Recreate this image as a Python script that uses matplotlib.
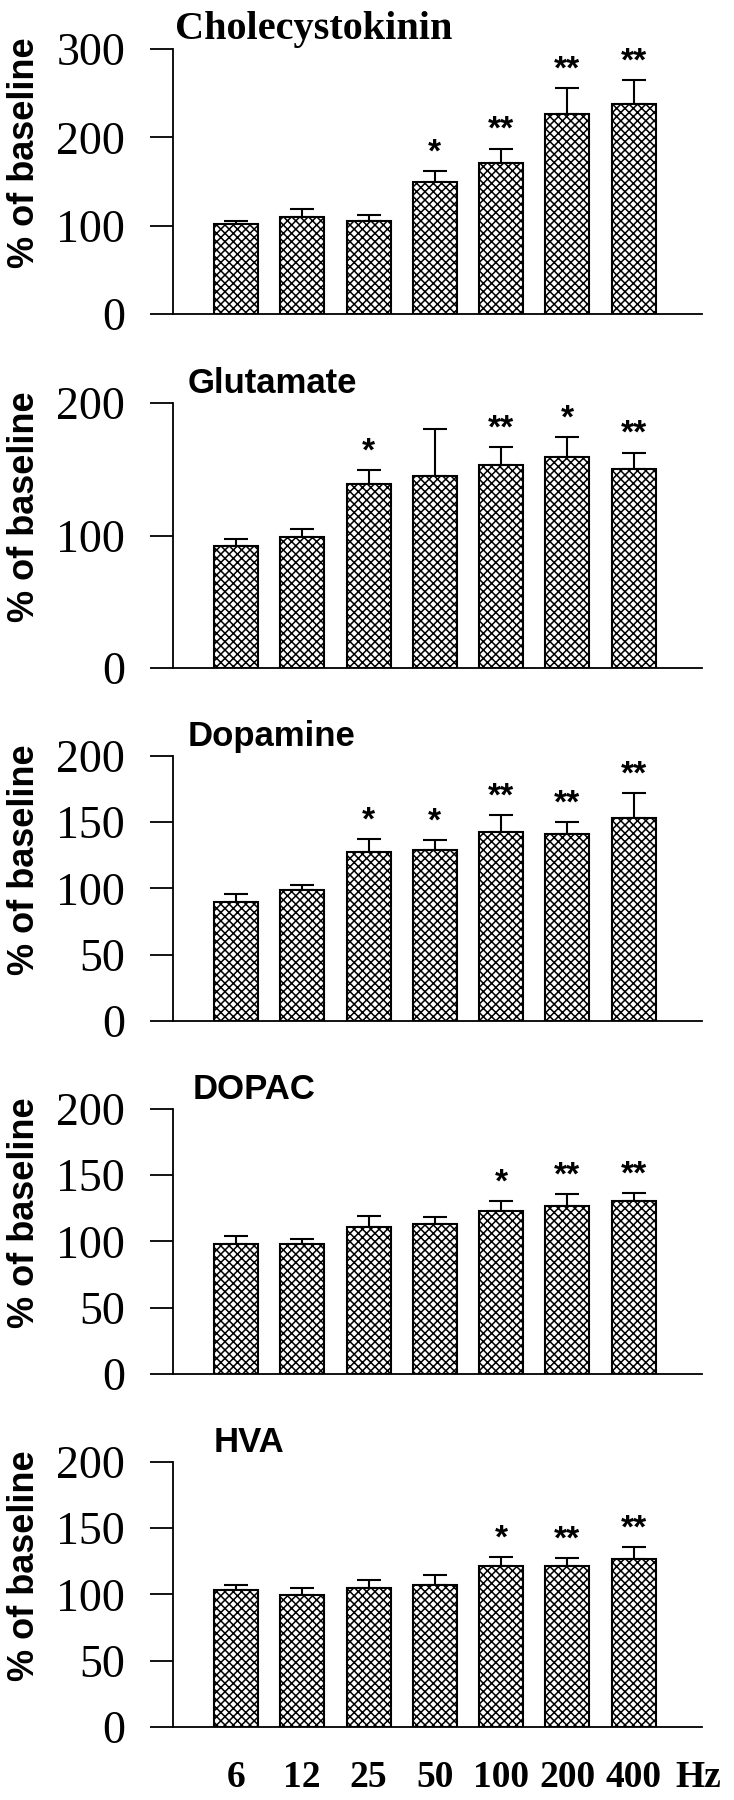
"""
Frigivelse (% af baseline) ved stimulering med forskellige frekvenser
Fem paneler: CCK, glutamat, dopamin, DOPAC og HVA
"""
import matplotlib.pyplot as plt
import numpy as np

plt.rcParams['font.family'] = 'Liberation Serif'
plt.rcParams['hatch.linewidth'] = 1.1

freq = ['6', '12', '25', '50', '100', '200', '400']

cck = [102, 110, 105, 149, 171, 226, 238]
cck_err = [3, 9, 7, 13, 16, 30, 27]
cck_sig = ['', '', '', '*', '**', '**', '**']

glu = [92, 98.5, 139, 145, 153, 159, 150]
glu_err = [5.5, 6.3, 10.5, 35.5, 13.5, 15, 12.5]
glu_sig = ['', '', '*', '', '**', '*', '**']

da = [90, 98.6, 127.5, 128.8, 142.6, 141.1, 153.5]
da_err = [6, 3.8, 9.6, 7.8, 12.9, 9.1, 18.6]
da_sig = ['', '', '*', '*', '**', '**', '**']

dopac = [98.2, 98.2, 110.8, 113.1, 123.1, 126.6, 130.2]
dopac_err = [5.8, 3.5, 8.3, 5, 7.3, 9.1, 6.3]
dopac_sig = ['', '', '', '', '*', '**', '**']

hva = [103.2, 99.9, 104.9, 107.4, 121.6, 121.1, 127.1]
hva_err = [4.3, 5.3, 5.8, 7.3, 6.8, 6.3, 8.8]
hva_sig = ['', '', '', '', '*', '**', '**']

panels = [
    ('Cholecystokinin', cck, cck_err, cck_sig, 300, [0, 100, 200, 300]),
    ('Glutamate', glu, glu_err, glu_sig, 200, [0, 100, 200]),
    ('Dopamine', da, da_err, da_sig, 200, [0, 50, 100, 150, 200]),
    ('DOPAC', dopac, dopac_err, dopac_sig, 200, [0, 50, 100, 150, 200]),
    ('HVA', hva, hva_err, hva_sig, 200, [0, 50, 100, 150, 200]),
]

# placering af akser (figurbrøk) og titler (akse-koordinater)
bottoms = [0.8256, 0.6289, 0.4328, 0.2367, 0.0406]
title_x = [0.004, 0.028, 0.028, 0.038, 0.0775]

fig = plt.figure(figsize=(7.34, 18), dpi=100)
x = np.arange(len(freq))

for k, (name, vals, err, sig, ymax, yticks) in enumerate(panels):
    ax = fig.add_axes([0.2357, bottoms[k], 0.7207, 0.1472])

    ax.errorbar(x, vals, yerr=[np.zeros(len(err)), err], fmt='none', ecolor='black',
                elinewidth=1.5, capsize=8.6, capthick=1.5, zorder=2)
    ax.bar(x, vals, width=0.664, color='white', edgecolor='black', linewidth=1.5,
           hatch='xxxx', zorder=3)

    for i in range(len(vals)):
        if sig[i]:
            ax.annotate(sig[i], xy=(x[i], vals[i] + err[i]), xytext=(0, 7),
                        textcoords='offset points', ha='center', va='baseline',
                        fontsize=24, fontweight='bold', family='Liberation Sans')

    ax.set_xlim(-0.95, 7.03)
    ax.set_ylim(0, ymax)
    ax.set_yticks(yticks)
    ax.tick_params(axis='y', direction='out', length=16.5, width=1.3, pad=18, labelsize=33)

    for s in ['top', 'right']:
        ax.spines[s].set_visible(False)
    for s in ['left', 'bottom']:
        ax.spines[s].set_linewidth(1.3)

    if k == 0:
        ax.text(title_x[k], 1.038, name, transform=ax.transAxes, ha='left', va='baseline',
                fontsize=29, fontweight='bold', family='Liberation Serif')
    else:
        ax.text(title_x[k], 1.036, name, transform=ax.transAxes, ha='left', va='baseline',
                fontsize=25, fontweight='bold', family='Liberation Sans')

    ax.text(-0.28, 0.61, '% of baseline', transform=ax.transAxes, rotation=90,
            ha='center', va='center', fontsize=26, fontweight='bold', family='Liberation Sans')

    if k == len(panels) - 1:
        ax.set_xticks(x, freq)
        ax.set_xticks([6.98], ['Hz'], minor=True)
        ax.tick_params(axis='x', which='both', length=0, pad=24, labelsize=27)
        for lab in ax.get_xticklabels(which='both'):
            lab.set_fontweight('bold')
    else:
        ax.set_xticks([])

plt.savefig('out.png', dpi=100)
